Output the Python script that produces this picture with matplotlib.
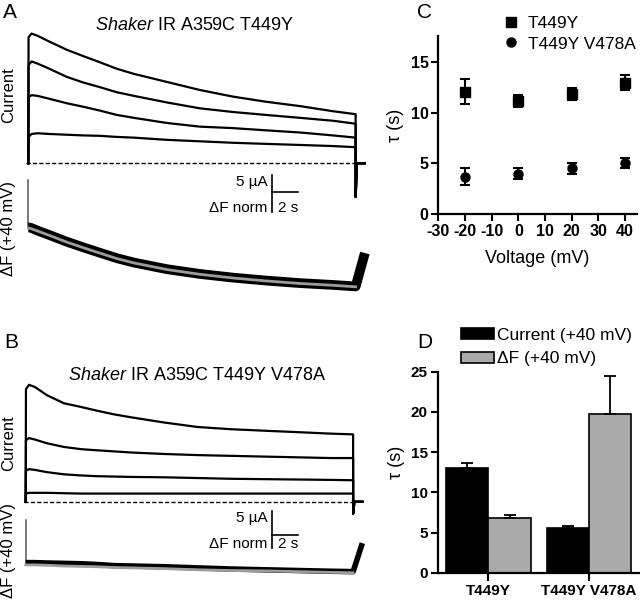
import matplotlib
matplotlib.use('Agg')
import matplotlib.pyplot as plt
from matplotlib.lines import Line2D
from matplotlib.patches import Patch

plt.rcParams['font.family'] = ['Liberation Sans', 'DejaVu Sans']
plt.rcParams['mathtext.fontset'] = 'custom'
plt.rcParams['mathtext.it'] = 'Liberation Sans:italic'
plt.rcParams['mathtext.rm'] = 'Liberation Sans'
plt.rcParams['axes.unicode_minus'] = False

# ---- data ----
# time points of the recordings (s)
t = [0, 0.02, 0.25, 0.7, 1.6, 2.9, 4.2, 5.4, 6.7, 8.0, 10.5, 13.0, 15.5, 18.0, 20.6, 23.1, 24.8]
t_tail = [24.8, 24.9, 25.5]

# A: Shaker IR A359C T449Y, currents (uA) at 4 voltages
curA = [
    [0, 17.2, 17.7, 17.4, 16.6, 15.5, 14.6, 13.8, 12.9, 12.2, 11.1, 10.0, 9.1, 8.4, 7.8, 7.1, 6.7],
    [0, 13.4, 13.9, 13.6, 12.9, 11.8, 11.0, 10.4, 9.7, 9.2, 8.3, 7.5, 7.0, 6.6, 6.2, 5.8, 5.4],
    [0, 9.0, 9.3, 9.2, 8.8, 8.2, 7.7, 7.2, 6.6, 6.2, 5.5, 5.0, 4.8, 4.5, 4.2, 3.8, 3.5],
    [0, 3.6, 4.0, 4.1, 4.0, 3.9, 3.8, 3.75, 3.6, 3.5, 3.2, 3.0, 2.8, 2.65, 2.5, 2.35, 2.2],
]
tailA = -4.6
# fluorescence at +40 mV (norm units) and its exponential fit
fA = [1.62, 1.62, 1.6, 1.53, 1.41, 1.23, 1.07, 0.93, 0.78, 0.66, 0.48, 0.35, 0.25, 0.17, 0.1, 0.05, 0.01]
fitA = [1.6, 1.6, 1.58, 1.52, 1.4, 1.22, 1.06, 0.92, 0.77, 0.65, 0.47, 0.34, 0.24, 0.16, 0.09, 0.04, 0.0]
fA_onset = [2.9, 1.6]
fA_end = 0.92

# B: Shaker IR A359C T449Y V478A
curB = [
    [0, 15.2, 15.8, 15.5, 14.4, 13.3, 12.8, 12.3, 11.8, 11.4, 10.7, 10.1, 9.8, 9.6, 9.4, 9.2, 9.1],
    [0, 8.3, 8.6, 8.4, 7.9, 7.4, 7.1, 6.95, 6.8, 6.65, 6.45, 6.3, 6.2, 6.1, 6.0, 5.9, 5.9],
    [0, 4.2, 4.4, 4.3, 4.0, 3.7, 3.55, 3.45, 3.4, 3.35, 3.3, 3.2, 3.1, 3.05, 3.0, 2.95, 2.9],
    [0, 1.1, 1.2, 1.2, 1.2, 1.15, 1.1, 1.1, 1.1, 1.1, 1.1, 1.1, 1.1, 1.1, 1.1, 1.1, 1.1],
]
tailB = -1.6
fB = [0.25, 0.25, 0.25, 0.25, 0.24, 0.23, 0.22, 0.2, 0.17, 0.16, 0.14, 0.11, 0.08, 0.06, 0.04, 0.02, 0.01]
fitB = [0.19, 0.19, 0.19, 0.19, 0.18, 0.16, 0.15, 0.14, 0.12, 0.11, 0.09, 0.06, 0.04, 0.03, 0.01, -0.01, -0.02]
fB_onset = [1.39, 0.25]
fB_end = 0.77

# C: tau vs voltage
volt = [-20, 0, 20, 40]
tau_T449Y = [12.1, 11.2, 11.9, 13.0]
err_T449Y = [1.2, 0.6, 0.6, 0.7]
tau_V478A = [3.7, 4.0, 4.5, 5.0]
err_V478A = [0.85, 0.5, 0.5, 0.5]

# D: tau at +40 mV
groups = ['T449Y', 'T449Y V478A']
tau_cur = [13.0, 5.6]
err_cur = [0.6, 0.2]
tau_dF = [6.8, 19.7]
err_dF = [0.45, 4.8]

W, H = 640, 608
fig = plt.figure(figsize=(W / 100, H / 100), dpi=100)


def box(x0, y0, x1, y1):
    return [x0 / W, 1 - y1 / H, (x1 - x0) / W, (y1 - y0) / H]


def trace_panel(rect, xl, yl_i, yl_f, cur, tail, ftr, fit, onset, fend, flw, bar):
    ax_i = fig.add_axes(rect)
    ax_f = fig.add_axes(rect)
    for a in (ax_i, ax_f):
        a.set_xlim(xl)
        a.axis('off')
        a.patch.set_alpha(0)
    ax_i.set_ylim(yl_i)
    ax_f.set_ylim(yl_f)
    ax_i.plot([-0.15, t[-1]], [0, 0], color='k', lw=1.0, ls=(0, (3, 1.6)))
    for I in cur:
        ax_i.plot(t + t_tail, I + [tail, 0, 0], color='k', lw=1.6)
    # fluorescence
    ax_f.plot([0, 0], onset, color='#555555', lw=1.1)
    ax_f.plot(t + [t_tail[-1]], ftr + [fend], color='k', lw=flw,
              solid_capstyle='butt')
    ax_f.plot(t, fit, color='#9c9c9c', lw=2.0)
    # scale bar: 5 uA / 2 s
    x0, ytop, ymid = bar
    ax_i.plot([x0, x0], [ytop, ytop - 5], color='k', lw=1.2)
    ax_i.plot([x0, x0 + 2], [ymid, ymid], color='k', lw=1.2)
    ax_i.text(x0 - 0.3, ytop - 1.0, '5 µA', ha='right', va='center', fontsize=11)
    ax_i.text(x0 - 0.3, ytop - 4.5, 'ΔF norm', ha='right', va='center', fontsize=11)
    ax_i.text(x0 + 0.5, ytop - 4.5, '2 s', ha='left', va='center', fontsize=11)


trace_panel(box(18, 20, 372, 300), (-0.78, 26.04), (-18.65, 19.55), (-0.36, 7.27),
            curA, tailA, fA, fitA, fA_onset, fA_end, 7.0, (18.44, -1.6, -3.96))
trace_panel(box(15, 350, 372, 608), (-0.81, 26.23), (-14.36, 20.5), (-0.96, 5.92),
            curB, tailB, fB, fitB, fB_onset, fB_end, 4.0, (18.64, -1.2, -4.54))

fig.text(195 / W, 1 - 26 / H, r'$\it{Shaker}$ IR A359C T449Y', ha='center', va='center', fontsize=13)
fig.text(197 / W, 1 - 376 / H, r'$\it{Shaker}$ IR A359C T449Y V478A', ha='center', va='center', fontsize=13)
for yc, s in [(95, 'Current'), (229, 'ΔF (+40 mV)'), (443, 'Current'), (550, 'ΔF (+40 mV)')]:
    fig.text(8.5 / W, 1 - yc / H, s, rotation=90, ha='center', va='center', fontsize=12)

for xc, yc, s in [(10, 12, 'A'), (424, 12, 'C'), (11, 343, 'B'), (425, 343, 'D')]:
    fig.text(xc / W, 1 - yc / H, s, ha='center', va='center', fontsize=15)


def style(ax, size):
    for s in ('top', 'right'):
        ax.spines[s].set_visible(False)
    for s in ('left', 'bottom'):
        ax.spines[s].set_linewidth(1.6)
    ax.tick_params(direction='out', length=5, width=1.5, labelsize=size, pad=2)
    for lab in ax.get_xticklabels() + ax.get_yticklabels():
        lab.set_fontweight('bold')


# ---- C ----
axC = fig.add_axes(box(438.3, 36, 637, 214))
axC.errorbar(volt, tau_T449Y, yerr=err_T449Y, fmt='s', color='k', ms=6.5,
             capsize=3.6, elinewidth=1.5, capthick=1.5)
axC.errorbar(volt, tau_V478A, yerr=err_V478A, fmt='o', color='k', ms=6.5,
             capsize=3.6, elinewidth=1.5, capthick=1.5)
axC.set_xlim(-30, 44.5)
axC.set_ylim(0, 17.6)
axC.set_xticks(range(-30, 41, 10))
axC.set_yticks([0, 5, 10, 15])
style(axC, 11.5)
axC.set_xlabel('Voltage (mV)', fontsize=13, labelpad=8)
axC.set_ylabel('τ (s)', fontsize=13)
axC.yaxis.set_label_coords(-0.175, 0.5)
hC = [Line2D([], [], marker='s', ls='none', color='k', ms=6.5),
      Line2D([], [], marker='o', ls='none', color='k', ms=6.5)]
axC.legend(hC, ['T449Y', 'T449Y V478A'], loc='upper left',
           bbox_to_anchor=(502 / W, 1 - 16 / H), bbox_transform=fig.transFigure,
           frameon=False, fontsize=12.5, handlelength=1.0, handletextpad=0.5,
           borderpad=0, borderaxespad=0, labelspacing=0.3)

# ---- D ----
axD = fig.add_axes(box(437.7, 371.7, 639, 573))
w = 0.42
xs = [0, 1]
axD.bar([x - w / 2 for x in xs], tau_cur, w, color='k', edgecolor='k', lw=1.2,
        yerr=[[0, 0], err_cur], capsize=4.5, error_kw=dict(elinewidth=1.3, capthick=1.3))
axD.bar([x + w / 2 for x in xs], tau_dF, w, color='#aaaaaa', edgecolor='k', lw=1.2,
        yerr=[[0, 0], err_dF], capsize=4.5, error_kw=dict(elinewidth=1.3, capthick=1.3))
axD.set_xlim(-0.506, 1.5)
axD.set_ylim(0, 25)
axD.set_yticks(range(0, 26, 5))
axD.set_xticks(xs)
axD.set_xticklabels(groups)
style(axD, 11)
axD.tick_params(axis='x', length=6)
axD.set_ylabel('τ (s)', fontsize=13)
axD.yaxis.set_label_coords(-0.16, 0.55)
hD = [Patch(facecolor='k', edgecolor='k', lw=1.2),
      Patch(facecolor='#aaaaaa', edgecolor='k', lw=1.2)]
axD.legend(hD, ['Current (+40 mV)', 'ΔF (+40 mV)'], loc='upper left',
           bbox_to_anchor=(461 / W, 1 - 328 / H), bbox_transform=fig.transFigure,
           frameon=False, fontsize=12.5, handlelength=1.9, handleheight=0.6,
           handletextpad=0.2, borderpad=0, borderaxespad=0, labelspacing=0.47)

fig.savefig('out.png', dpi=100)
